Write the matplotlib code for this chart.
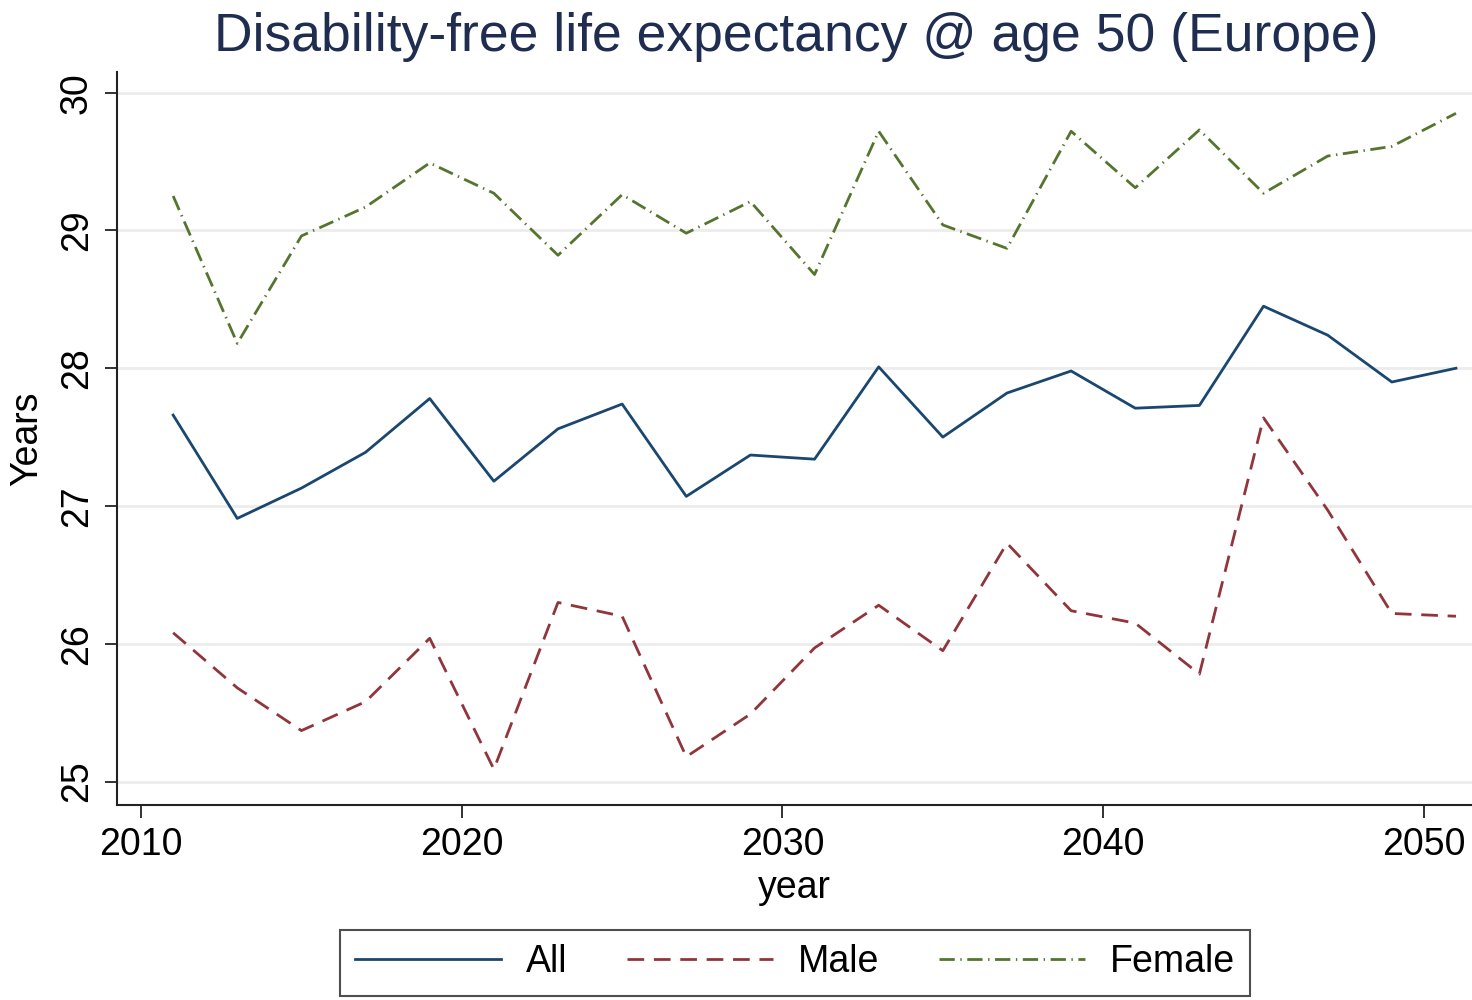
import matplotlib
matplotlib.use("Agg")
import matplotlib.pyplot as plt

# values
years = [2011, 2013, 2015, 2017, 2019, 2021, 2023, 2025, 2027, 2029, 2031,
         2033, 2035, 2037, 2039, 2041, 2043, 2045, 2047, 2049, 2051]
dfle_all = [27.66, 26.91, 27.13, 27.39, 27.78, 27.18, 27.56, 27.74, 27.07, 27.37, 27.34,
            28.01, 27.50, 27.82, 27.98, 27.71, 27.73, 28.45, 28.24, 27.90, 28.00]
dfle_male = [26.08, 25.68, 25.37, 25.58, 26.04, 25.09, 26.30, 26.20, 25.18, 25.49, 25.97,
             26.28, 25.95, 26.73, 26.24, 26.15, 25.78, 27.64, 26.97, 26.22, 26.20]
dfle_female = [29.25, 28.18, 28.96, 29.17, 29.49, 29.27, 28.82, 29.26, 28.98, 29.21, 28.68,
               29.72, 29.04, 28.87, 29.72, 29.31, 29.73, 29.27, 29.54, 29.61, 29.85]

x_ticks = [2010, 2020, 2030, 2040, 2050]
y_ticks = [25, 26, 27, 28, 29, 30]

plt.rcParams['font.family'] = ['Liberation Sans', 'DejaVu Sans']

fig = plt.figure(figsize=(14.72, 10), dpi=100, facecolor='white')
ax = fig.add_axes([0.0795, 0.195, 0.9205, 0.733])

ax.plot(years, dfle_all, color='#1a476f', lw=2, label='All')
ax.plot(years, dfle_male, color='#90353b', lw=2, dashes=(6, 3.5), label='Male')
ax.plot(years, dfle_female, color='#55752f', lw=2, dashes=(5.5, 2, 0.5, 2), label='Female')

ax.set_xlim(2009.25, 2051.5)
ax.set_ylim(24.83, 30.15)
ax.set_xticks(x_ticks)
ax.set_yticks(y_ticks)
ax.grid(axis='y', color='#ececec', lw=2)
ax.set_axisbelow(True)

for side in ['top', 'right']:
    ax.spines[side].set_visible(False)
for side in ['left', 'bottom']:
    ax.spines[side].set_color('#222222')
    ax.spines[side].set_linewidth(1.5)

ax.tick_params(axis='both', direction='out', length=9, width=1.3, color='#222222',
               labelsize=27, labelcolor='black', pad=7)
for lbl in ax.get_yticklabels():
    lbl.set_rotation(90)
    lbl.set_va('center')

ax.set_xlabel('year', fontsize=27, labelpad=5)
ax.set_ylabel('Years', fontsize=27, labelpad=10)

fig.text(0.541, 0.963, 'Disability-free life expectancy @ age 50 (Europe)',
         ha='center', va='center', fontsize=38.5, color='#1e2d50')

leg = fig.legend(loc='center', bbox_to_anchor=(0.54, 0.0375), ncol=3, fontsize=27,
                 frameon=True, fancybox=False, edgecolor='#222222', handlelength=3.9,
                 handletextpad=0.65, columnspacing=1.6, borderpad=0.4)
leg.get_frame().set_linewidth(1.5)

fig.savefig('out.png', dpi=100, facecolor='white')
